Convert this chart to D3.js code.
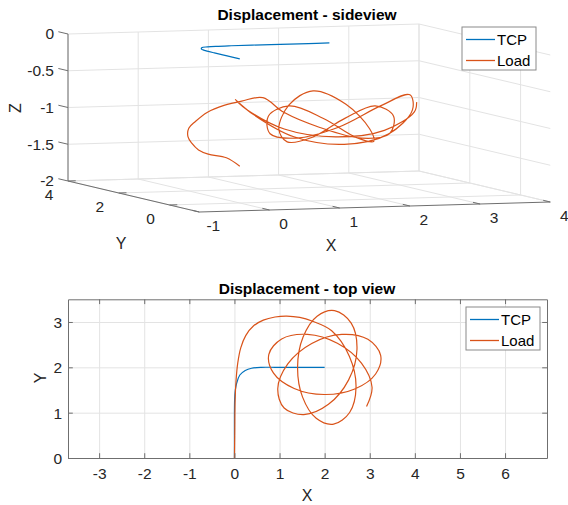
<!DOCTYPE html>
<html>
<head>
<meta charset="utf-8">
<script src="https://cdn.jsdelivr.net/npm/d3@7"></script>
<style>
  body { margin: 0; background: #fff; }
  svg { display: block; font-family: "Liberation Sans", Arial, Helvetica, sans-serif; }
</style>
</head>
<body>
<svg id="fig" width="568" height="505"></svg>
<script>
// ---- data -------------------------------------------------------------
// TCP (crane tip) path
const tcpX = [0, 0, 0, 0.005, 0.02, 0.05, 0.12, 0.24, 0.38, 0.6, 0.9, 1.3, 1.7, 2.0];
const tcpY = [0, 0.5, 1.0, 1.3, 1.5, 1.65, 1.83, 1.93, 1.98, 2.0, 2.0, 2.0, 2.0, 2.0];
const tcpZ = [-0.04, -0.04, -0.04, -0.04, -0.04, -0.04, -0.04, -0.04, -0.04, -0.04, -0.04, -0.04, -0.04, -0.04];

// Load path (hanging mass)
const loadX = [0, 0.007, 0.015, 0.037, 0.074, 0.14, 0.25, 0.42, 0.64, 0.90, 1.16, 1.45, 1.72,
  2.156, 2.550, 2.696, 2.554, 2.199,
  1.813, 1.511, 1.400, 1.522, 1.833, 2.220,
  2.589, 2.717, 2.532, 2.085, 1.538, 1.102,
  0.961, 1.183, 1.714, 2.382, 2.959, 3.242,
  3.130, 2.667, 1.995, 1.325, 0.867, 0.763,
  1.047, 1.619, 2.282, 2.816, 3.051, 2.929];
const loadY = [0, 0.546, 1.284, 1.727, 2.096, 2.428, 2.70, 2.91, 3.04, 3.11, 3.13, 3.10, 3.02,
  2.806, 2.239, 1.565, 1.004, 0.746,
  0.875, 1.342, 2.005, 2.667, 3.128, 3.251,
  2.976, 2.398, 1.723, 1.184, 0.958, 1.102,
  1.532, 2.076, 2.527, 2.726, 2.617, 2.264,
  1.853, 1.522, 1.400, 1.534, 1.872, 2.286,
  2.625, 2.726, 2.530, 2.090, 1.559, 1.134];
const loadZ = [-1.50, -1.43, -1.44, -1.42, -1.36, -1.30, -1.21, -1.14, -1.03, -0.95, -0.90, -0.86, -1.06,
  -1.26, -1.37, -1.26, -0.97, -0.80,
  -0.97, -1.26, -1.37, -1.26, -0.97, -0.80,
  -0.97, -1.26, -1.37, -1.26, -0.97, -0.80,
  -0.97, -1.26, -1.37, -1.26, -0.97, -0.80,
  -0.97, -1.26, -1.37, -1.26, -0.97, -0.80,
  -0.97, -1.26, -1.37, -1.26, -0.97, -0.80];

const seriesNames = ["TCP", "Load"];
const seriesColors = ["#0072BD", "#D95319"];

// axis ticks
const xTicks3 = [-1, 0, 1, 2, 3, 4];
const yTicks3 = [4, 2, 0];
const zTicks3 = [0, -0.5, -1, -1.5, -2];
const xTicks2 = [-3, -2, -1, 0, 1, 2, 3, 4, 5, 6];
const yTicks2 = [0, 1, 2, 3];

// ---- common styling -----------------------------------------------------
const svg = d3.select("#fig");
const gridColor = "#e3e3e3";
const axisColor = "#6f6f6f";
const textColor = "#262626";
const tickFont = "15.5px";
const labelFont = "16px";
const legendFont = "15px";
const titleFont = "15.5px";
const plain = d => String(d);   // hyphen-minus, no trailing zeros

function legend(x, y, w, h) {
  const g = svg.append("g").attr("transform", `translate(${x},${y})`);
  g.append("rect").attr("width", w).attr("height", h)
    .attr("fill", "#fff").attr("stroke", "#8a8a8a").attr("stroke-width", 1);
  seriesNames.forEach((name, i) => {
    const cy = 12.5 + i * 21;
    g.append("line").attr("x1", 4).attr("x2", 33).attr("y1", cy).attr("y2", cy)
      .attr("stroke", seriesColors[i]).attr("stroke-width", 1.3);
    g.append("text").attr("x", 35).attr("y", cy).attr("dy", "0.35em")
      .attr("font-size", legendFont).attr("fill", "#000").text(name);
  });
}

// ---- 3D side view ------------------------------------------------------
const xLim3 = [-1, 4], yLim3 = [-1.17, 4], zLim3 = [-2, 0];
// screen point of the corner (x=-1, y=4, z=0)
const origin3 = [68, 34];
// each data axis moves the screen point along its own direction
const sxOfX = d3.scaleLinear().domain(xLim3).range([0, 351]);
const syOfX = d3.scaleLinear().domain(xLim3).range([0, -10]);
const sxOfY = d3.scaleLinear().domain([yLim3[1], yLim3[0]]).range([0, 131.3]);
const syOfY = d3.scaleLinear().domain([yLim3[1], yLim3[0]]).range([0, 31]);
const syOfZ = d3.scaleLinear().domain([zLim3[1], zLim3[0]]).range([0, 147]);

function proj(x, y, z) {
  return [origin3[0] + sxOfX(x) + sxOfY(y), origin3[1] + syOfX(x) + syOfY(y) + syOfZ(z)];
}

const g3 = svg.append("g");
const seg = (a, b, color, w) => {
  const p = proj(...a), q = proj(...b);
  g3.append("line").attr("x1", p[0]).attr("y1", p[1]).attr("x2", q[0]).attr("y2", q[1])
    .attr("stroke", color).attr("stroke-width", w || 1);
};

const [x0, x1] = xLim3, [y0, y1] = yLim3, [z0, z1] = zLim3;
// back wall (y = max)
xTicks3.forEach(x => seg([x, y1, z0], [x, y1, z1], gridColor));
zTicks3.forEach(z => seg([x0, y1, z], [x1, y1, z], gridColor));
// side wall (x = max)
yTicks3.forEach(y => seg([x1, y, z0], [x1, y, z1], gridColor));
zTicks3.forEach(z => seg([x1, y1, z], [x1, y0, z], gridColor));
// floor (z = min)
xTicks3.forEach(x => seg([x, y1, z0], [x, y0, z0], gridColor));
yTicks3.forEach(y => seg([x0, y, z0], [x1, y, z0], gridColor));

// axis lines
seg([x0, y1, z0], [x0, y1, z1], axisColor);
seg([x0, y1, z0], [x0, y0, z0], axisColor);
seg([x0, y0, z0], [x1, y0, z0], axisColor);

// tick marks
zTicks3.forEach(z => seg([x0, y1, z], [x0, y1 + 0.38, z], axisColor));
yTicks3.forEach(y => seg([x0, y, z0], [x0 + 0.11, y, z0], axisColor));
xTicks3.forEach(x => seg([x, y0, z0], [x, y0 + 0.28, z0], axisColor));

// tick labels
zTicks3.forEach(z => {
  const p = proj(x0, y1, z);
  g3.append("text").attr("x", 54).attr("y", p[1]).attr("dy", "0.35em")
    .attr("text-anchor", "end").attr("font-size", tickFont).attr("fill", textColor).text(plain(z));
});
yTicks3.forEach(y => {
  const p = proj(x0, y, z0);
  g3.append("text").attr("x", p[0] - 19).attr("y", p[1] + 13.5).attr("dy", "0.35em")
    .attr("text-anchor", "middle").attr("font-size", tickFont).attr("fill", textColor).text(plain(y));
});
xTicks3.forEach(x => {
  const p = proj(x, y0, z0);
  g3.append("text").attr("x", p[0] + 14).attr("y", p[1] + 14).attr("dy", "0.35em")
    .attr("text-anchor", "middle").attr("font-size", tickFont).attr("fill", textColor).text(plain(x));
});

// axis labels
g3.append("text").attr("transform", "translate(15,108) rotate(-90)").attr("dy", "0.35em")
  .attr("text-anchor", "middle").attr("font-size", labelFont).attr("fill", textColor).text("Z");
g3.append("text").attr("x", 121).attr("y", 243).attr("dy", "0.35em")
  .attr("text-anchor", "middle").attr("font-size", labelFont).attr("fill", textColor).text("Y");
g3.append("text").attr("x", 331).attr("y", 245).attr("dy", "0.35em")
  .attr("text-anchor", "middle").attr("font-size", labelFont).attr("fill", textColor).text("X");

// title
g3.append("text").attr("x", 307).attr("y", 15).attr("dy", "0.35em")
  .attr("text-anchor", "middle").attr("font-size", titleFont).attr("font-weight", "bold")
  .attr("fill", "#000").text("Displacement - sideview");

// paths
const line3 = d3.line().curve(d3.curveCatmullRom.alpha(0.5));
const tcp3 = tcpX.map((x, i) => proj(x, tcpY[i], tcpZ[i]));
const load3 = loadX.map((x, i) => proj(x, loadY[i], loadZ[i]));
g3.append("path").attr("d", line3(tcp3)).attr("fill", "none")
  .attr("stroke", seriesColors[0]).attr("stroke-width", 1.2);
g3.append("path").attr("d", line3(load3)).attr("fill", "none")
  .attr("stroke", seriesColors[1]).attr("stroke-width", 1.2);

legend(462, 27, 74, 43);

// ---- top view ---------------------------------------------------------
const box = { left: 68, right: 547, top: 299.3, bottom: 458 };
const xS = d3.scaleLinear().domain([-3.69, 6.93]).range([box.left, box.right]);
const yS = d3.scaleLinear().domain([0, 3.5]).range([box.bottom, box.top]);
const g2 = svg.append("g");
const W = box.right - box.left, H = box.bottom - box.top;

// grid
g2.append("g").attr("transform", `translate(0,${box.bottom})`)
  .call(d3.axisBottom(xS).tickValues(xTicks2).tickSize(-H).tickFormat(""))
  .call(g => { g.select(".domain").remove(); g.selectAll("line").attr("stroke", gridColor); });
g2.append("g").attr("transform", `translate(${box.left},0)`)
  .call(d3.axisLeft(yS).tickValues(yTicks2).tickSize(-W).tickFormat(""))
  .call(g => { g.select(".domain").remove(); g.selectAll("line").attr("stroke", gridColor); });

// data lines
const line2 = d3.line().x(d => xS(d[0])).y(d => yS(d[1])).curve(d3.curveCatmullRom.alpha(0.5));
g2.append("path").attr("d", line2(tcpX.map((x, i) => [x, tcpY[i]]))).attr("fill", "none")
  .attr("stroke", seriesColors[0]).attr("stroke-width", 1.2);
g2.append("path").attr("d", line2(loadX.map((x, i) => [x, loadY[i]]))).attr("fill", "none")
  .attr("stroke", seriesColors[1]).attr("stroke-width", 1.2);

// axes with inward ticks on all four sides
const styleAxis = g => {
  g.select(".domain").attr("stroke", axisColor);
  g.selectAll(".tick line").attr("stroke", axisColor);
  g.selectAll("text").attr("fill", textColor).attr("font-size", tickFont)
    .attr("font-family", "Liberation Sans, Arial, sans-serif");
};
const tk = 4.8;
g2.append("g").attr("transform", `translate(0,${box.bottom})`)
  .call(d3.axisBottom(xS).tickValues(xTicks2).tickFormat(plain).tickSize(-tk).tickSizeOuter(0))
  .call(styleAxis)
  .call(g => g.selectAll("text").attr("y", 16).attr("dy", "0.35em"));
g2.append("g").attr("transform", `translate(0,${box.top})`)
  .call(d3.axisTop(xS).tickValues(xTicks2).tickSize(-tk).tickSizeOuter(0).tickFormat(""))
  .call(styleAxis);
g2.append("g").attr("transform", `translate(${box.left},0)`)
  .call(d3.axisLeft(yS).tickValues(yTicks2).tickFormat(plain).tickSize(-tk).tickSizeOuter(0))
  .call(styleAxis)
  .call(g => g.selectAll("text").attr("x", -6).attr("dy", "0.35em"));
g2.append("g").attr("transform", `translate(${box.right},0)`)
  .call(d3.axisRight(yS).tickValues(yTicks2).tickSize(-tk).tickSizeOuter(0).tickFormat(""))
  .call(styleAxis);

// labels and title
g2.append("text").attr("x", 307).attr("y", 495).attr("dy", "0.35em")
  .attr("text-anchor", "middle").attr("font-size", labelFont).attr("fill", textColor).text("X");
g2.append("text").attr("transform", "translate(40,378) rotate(-90)").attr("dy", "0.35em")
  .attr("text-anchor", "middle").attr("font-size", labelFont).attr("fill", textColor).text("Y");
g2.append("text").attr("x", 307).attr("y", 289).attr("dy", "0.35em")
  .attr("text-anchor", "middle").attr("font-size", titleFont).attr("font-weight", "bold")
  .attr("fill", "#000").text("Displacement - top view");

legend(466, 307, 74, 43);
</script>
</body>
</html>
